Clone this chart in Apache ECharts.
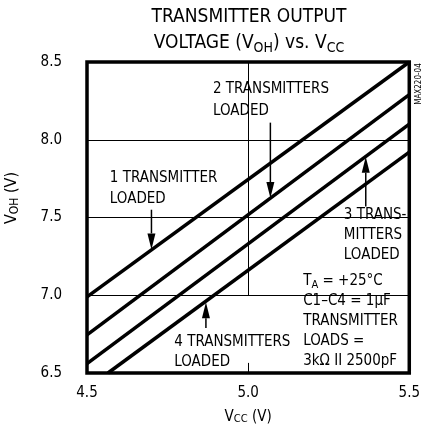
<!DOCTYPE html>
<html>
<head>
<meta charset="utf-8">
<script src="https://cdn.jsdelivr.net/npm/echarts/dist/echarts.min.js"></script>
<style>
html,body{margin:0;padding:0;background:#fff;}
#chart{width:423px;height:432px;}
</style>
</head>
<body>
<div id="chart"></div>
<script>
// ---------------- data ----------------
const xTicks = [4.5, 5.0, 5.5];
const yTicks = [6.5, 7.0, 7.5, 8.0, 8.5];
const oneLoaded   = [[4.5, 6.99], [5.5, 8.5]];
const twoLoaded   = [[4.5, 6.745], [5.5, 8.29]];
const threeLoaded = [[4.5, 6.56], [5.5, 8.10]];
const fourLoaded  = [[4.565, 6.5], [5.5, 7.92]];
// arrows: [x, from y, to y (tip)]
const arrowData = [
  [4.70, 7.55, 7.295],
  [5.069, 8.11, 7.625],
  [5.365, 7.57, 7.89],
  [4.869, 6.79, 6.955]
];
const labelTexts = [
  ['1 TRANSMITTER', 'LOADED'],
  ['2 TRANSMITTERS', 'LOADED'],
  ['3 TRANS-', 'MITTERS', 'LOADED'],
  ['4 TRANSMITTERS', 'LOADED'],
  ['T{s|A} = +25°C', 'C1–C4 = 1µF', 'TRANSMITTER', 'LOADS =', '3kΩ II 2500pF']
];
const labelAnchors = [
  [4.5615, 7.822],
  [4.8815, 8.394],
  [5.2877, 7.580],
  [4.7615, 6.760],
  [5.1615, 7.156]
];
const labelLineHeights = [21, 22, 20, 20, 20];

// ---------------- chart ----------------
const FONT = '"Liberation Sans Narrow", "DejaVu Sans Condensed", "Liberation Sans", sans-serif';
const chart = echarts.init(document.getElementById('chart'), null, {renderer: 'canvas'});

const lineStyle = {color: '#000', width: 3.5};
function lineSeries(name, data) {
  return {
    name, type: 'line', data, symbol: 'none', showSymbol: false,
    lineStyle, z: 3, silent: true, animation: false
  };
}

const option = {
  animation: false,
  backgroundColor: '#fff',
  grid: {left: 87, right: 11, top: 62, bottom: 59, show: true, z: 10,
         borderColor: '#000', borderWidth: 3.5, backgroundColor: 'transparent'},
  xAxis: {
    type: 'value', min: xTicks[0], max: xTicks[xTicks.length - 1], interval: 0.5,
    axisLine: {show: false}, axisTick: {show: false}, splitLine: {show: false},
    axisLabel: {formatter: v => v.toFixed(1), margin: 13, color: '#000',
                fontSize: 15, fontFamily: FONT},
    name: 'V{s|CC} (V)', nameLocation: 'middle', nameGap: 37,
    nameTextStyle: {color: '#000', fontSize: 15, fontFamily: FONT,
      rich: {s: {fontSize: 11, fontFamily: FONT, color: '#000', verticalAlign: 'bottom', lineHeight: 11}}}
  },
  yAxis: {
    type: 'value', min: yTicks[0], max: yTicks[yTicks.length - 1], interval: 0.5,
    axisLine: {show: false}, axisTick: {show: false}, splitLine: {show: false},
    axisLabel: {formatter: v => v.toFixed(1), margin: 25, color: '#000',
                fontSize: 15, fontFamily: FONT}
  },
  series: [
    {
      name: 'grid', type: 'line', data: [], silent: true, z: 1,
      markLine: {
        silent: true, symbol: ['none', 'none'], animation: false,
        label: {show: false},
        lineStyle: {color: '#000', width: 1, type: 'solid'},
        data: [
          [{coord: [4.5, 7.0]}, {coord: [5.5, 7.0]}],
          [{coord: [4.5, 7.5]}, {coord: [5.5, 7.5]}],
          [{coord: [4.5, 8.0]}, {coord: [5.5, 8.0]}],
          [{coord: [5.0, 7.0]}, {coord: [5.0, 8.5]}],
          [{coord: [5.0, 6.5]}, {coord: [5.0, 6.565]}]
        ]
      }
    },
    lineSeries('1 transmitter loaded', oneLoaded),
    lineSeries('2 transmitters loaded', twoLoaded),
    lineSeries('3 transmitters loaded', threeLoaded),
    lineSeries('4 transmitters loaded', fourLoaded),
    {
      name: 'arrows', type: 'custom', data: arrowData, z: 4, silent: true,
      renderItem: function (params, api) {
        const x = api.value(0);
        const p0 = api.coord([x, api.value(1)]);
        const p1 = api.coord([x, api.value(2)]);
        const dir = p1[1] > p0[1] ? 1 : -1;
        const head = 16, hw = 4;
        return {
          type: 'group',
          children: [
            {type: 'line', shape: {x1: p0[0], y1: p0[1], x2: p1[0], y2: p1[1] - dir * head},
             style: {stroke: '#000', lineWidth: 1.5}},
            {type: 'polygon', shape: {points: [
               [p1[0], p1[1]], [p1[0] - hw, p1[1] - dir * head], [p1[0] + hw, p1[1] - dir * head]]},
             style: {fill: '#000'}}
          ]
        };
      }
    }
  ]
};
chart.setOption(option);

const graphics = [];
labelTexts.forEach((lines, i) => {
  const p = chart.convertToPixel({gridIndex: 0}, labelAnchors[i]);
  graphics.push({
    type: 'text', x: p[0], y: p[1], z: 2, silent: true,
    style: {
      text: lines.join('\n'), fill: '#000', fontSize: 15, fontFamily: FONT,
      lineHeight: labelLineHeights[i], align: 'left', verticalAlign: 'top',
      backgroundColor: '#fff', padding: [0, 3, 0, 3],
      rich: {s: {fontSize: 11, fontFamily: FONT, fill: '#000', verticalAlign: 'bottom',
                 lineHeight: 11}}
    }
  });
});
// title
graphics.push({
  type: 'text', x: 249, y: 17, z: 50, silent: true,
  style: {text: 'TRANSMITTER OUTPUT', fill: '#000', fontSize: 19, fontFamily: FONT,
          align: 'center', verticalAlign: 'middle'}
});
graphics.push({
  type: 'text', x: 249, y: 43, z: 50, silent: true,
  style: {text: 'VOLTAGE (V{s|OH}) vs. V{s|CC}', fill: '#000', fontSize: 19, fontFamily: FONT,
          align: 'center', verticalAlign: 'middle', lineHeight: 24,
          rich: {s: {fontSize: 14, fontFamily: FONT, fill: '#000', verticalAlign: 'bottom', lineHeight: 14}}}
});
// y axis name
graphics.push({
  type: 'text', x: 12, y: 198, rotation: Math.PI / 2, z: 50, silent: true,
  style: {text: 'V{s|OH} (V)', fill: '#000', fontSize: 16, fontFamily: FONT,
          align: 'center', verticalAlign: 'middle', lineHeight: 18,
          rich: {s: {fontSize: 12, fontFamily: FONT, fill: '#000', verticalAlign: 'bottom', lineHeight: 12}}}
});
// figure code
graphics.push({
  type: 'text', x: 419, y: 84, rotation: Math.PI / 2, z: 50, silent: true,
  style: {text: 'MAX220-04', fill: '#000', fontSize: 8, fontFamily: FONT,
          align: 'center', verticalAlign: 'middle'}
});
chart.setOption({graphic: graphics});
</script>
</body>
</html>
